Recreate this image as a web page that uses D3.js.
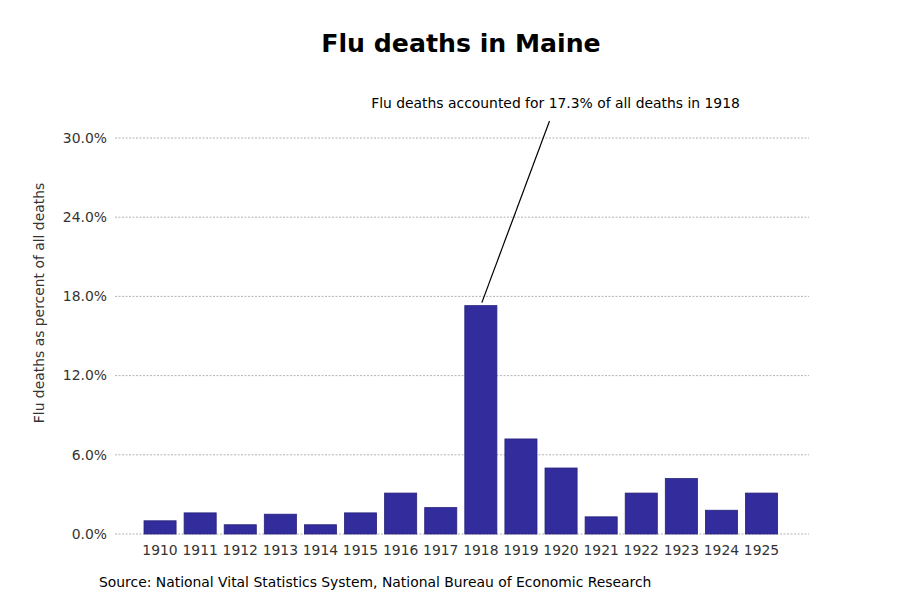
<!DOCTYPE html>
<html>
<head>
<meta charset="utf-8">
<script src="https://cdn.jsdelivr.net/npm/d3@7"></script>
<style>
  body { margin: 0; background: #fff; }
  svg { font-family: "DejaVu Sans", sans-serif; }
</style>
</head>
<body>
<svg id="chart" width="900" height="600"></svg>
<script>
const years = ["1910","1911","1912","1913","1914","1915","1916","1917","1918","1919","1920","1921","1922","1923","1924","1925"];
const fluShare = [1.0, 1.6, 0.7, 1.5, 0.7, 1.6, 3.1, 2.0, 17.3, 7.2, 5.0, 1.3, 3.1, 4.2, 1.8, 3.1];
const yTicks = [0, 6, 12, 18, 24, 30];
const titleText = "Flu deaths in Maine";
const yLabelText = "Flu deaths as percent of all deaths";
const annotationText = "Flu deaths accounted for 17.3% of all deaths in 1918";
const annotatedYear = "1918";
const sourceText = "Source: National Vital Statistics System, National Bureau of Economic Research";

const svg = d3.select("#chart");
svg.append("rect").attr("width", 900).attr("height", 600).attr("fill", "#fff");

const x = d3.scaleBand().domain(years).range([140, 781.6]).paddingInner(0.2).paddingOuter(0.1);
const y = d3.scaleLinear().domain([0, 30]).range([534, 138]);

// gridlines
svg.append("g").selectAll("line").data(yTicks).join("line")
  .attr("x1", 115).attr("x2", 809)
  .attr("y1", d => y(d)).attr("y2", d => y(d))
  .attr("stroke", "#a0a0a0").attr("stroke-width", 0.8).attr("stroke-dasharray", "2,1.5");

// y tick labels
svg.append("g").selectAll("text").data(yTicks).join("text")
  .attr("x", 107).attr("y", d => y(d)).attr("dy", "0.35em")
  .attr("text-anchor", "end").attr("font-size", 13.9).attr("fill", "#333")
  .text(d => d3.format(".1f")(d) + "%");

// bars
svg.append("g").selectAll("rect").data(years).join("rect")
  .attr("x", d => x(d)).attr("width", x.bandwidth())
  .attr("y", (d, i) => y(fluShare[i]))
  .attr("height", (d, i) => y(0) - y(fluShare[i]))
  .attr("fill", "#332c9c").attr("stroke", "#26217a").attr("stroke-width", 0.8);

// x tick labels
svg.append("g").selectAll("text").data(years).join("text")
  .attr("x", d => x(d) + x.bandwidth() / 2).attr("y", 550).attr("dy", "0.35em")
  .attr("text-anchor", "middle").attr("font-size", 13.9).attr("fill", "#333")
  .text(d => d);

// y label
svg.append("text")
  .attr("transform", "translate(44,303) rotate(-90)")
  .attr("text-anchor", "middle").attr("font-size", 13.9).attr("fill", "#333")
  .text(yLabelText);

// title
svg.append("text").attr("x", 461).attr("y", 43).attr("dy", "0.35em")
  .attr("text-anchor", "middle").attr("font-size", 25.2).attr("font-weight", "bold").attr("fill", "#000")
  .text(titleText);

// annotation
const ai = years.indexOf(annotatedYear);
const ax = x(annotatedYear) + x.bandwidth() / 2;
const ay = y(fluShare[ai]) - 3;
svg.append("line")
  .attr("x1", ax + 1).attr("y1", ay)
  .attr("x2", 549.5).attr("y2", 121)
  .attr("stroke", "#000").attr("stroke-width", 1.2);
svg.append("text").attr("x", 555.5).attr("y", 103).attr("dy", "0.35em")
  .attr("text-anchor", "middle").attr("font-size", 13.9).attr("fill", "#000")
  .text(annotationText);

// source
svg.append("text").attr("x", 99).attr("y", 582).attr("dy", "0.35em")
  .attr("text-anchor", "start").attr("font-size", 13.9).attr("fill", "#000")
  .text(sourceText);
</script>
</body>
</html>
